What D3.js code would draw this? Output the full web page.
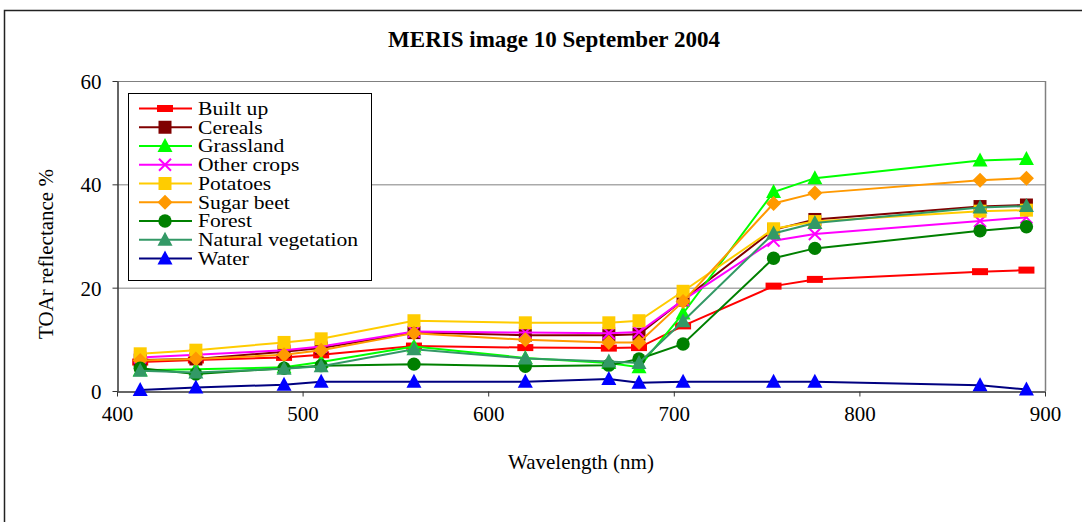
<!DOCTYPE html>
<html>
<head>
<meta charset="utf-8">
<script src="https://cdn.jsdelivr.net/npm/d3@7"></script>
<style>
  html, body { margin: 0; padding: 0; background: #fff; }
  svg { display: block; font-family: "Liberation Serif", "Times New Roman", serif; }
</style>
</head>
<body>
<svg id="chart" width="1082" height="522"></svg>
<script>
// MERIS band centres (nm)
const wavelengths = [412.5, 442.5, 490, 510, 560, 620, 665, 681.25, 705, 753.75, 776, 865, 890];

// TOA reflectance (%) per land-cover class
const builtUp     = [5.6, 6.0, 6.5, 7.0, 8.7, 8.4, 8.3, 8.4, 12.6, 20.3, 21.6, 23.1, 23.4];
const cereals     = [6.0, 6.2, 7.6, 8.3, 11.3, 10.8, 10.8, 11.0, 17.6, 31.2, 33.2, 35.7, 36.0];
const grassland   = [4.0, 4.2, 4.6, 5.6, 8.6, 6.4, 5.4, 4.6, 15.0, 38.5, 41.2, 44.6, 44.9];
const otherCrops  = [6.5, 7.0, 7.9, 8.6, 11.5, 11.3, 11.2, 11.4, 17.6, 29.1, 30.4, 32.9, 33.6];
const potatoes    = [7.2, 7.9, 9.4, 10.1, 13.6, 13.2, 13.2, 13.6, 19.3, 31.4, 32.8, 34.8, 35.0];
const sugarBeet   = [5.9, 6.2, 7.0, 7.9, 11.2, 9.9, 9.4, 9.4, 17.3, 36.3, 38.3, 40.8, 41.2];
const forest      = [4.4, 3.3, 4.4, 4.9, 5.2, 4.8, 5.0, 6.2, 9.1, 25.7, 27.6, 31.0, 31.8];
const naturalVeg  = [3.9, 3.6, 4.3, 4.8, 8.1, 6.3, 5.7, 5.4, 13.5, 30.5, 32.5, 35.5, 35.8];
const water       = [0.2, 0.7, 1.2, 1.8, 1.8, 1.8, 2.3, 1.6, 1.8, 1.8, 1.8, 1.1, 0.3];

const seriesNames = ["Built up", "Cereals", "Grassland", "Other crops", "Potatoes",
                     "Sugar beet", "Forest", "Natural vegetation", "Water"];
const seriesValues = [builtUp, cereals, grassland, otherCrops, potatoes,
                      sugarBeet, forest, naturalVeg, water];

const xTicks = [400, 500, 600, 700, 800, 900];
const yTicks = [0, 20, 40, 60];

const titleText = "MERIS image 10 September 2004";
const xLabel = "Wavelength (nm)";
const yLabel = "TOAr reflectance %";

// Per-series styling: line colour, marker shape, marker fill
const styles = [
  { line: "#FF0000", shape: "bar",      fill: "#FF0000" },
  { line: "#800000", shape: "square",   fill: "#800000" },
  { line: "#00FF00", shape: "triangle", fill: "#00FF00" },
  { line: "#FF00FF", shape: "cross",    fill: "#FF00FF" },
  { line: "#FFCC00", shape: "square",   fill: "#FFCC00" },
  { line: "#FF9900", shape: "diamond",  fill: "#FF9900" },
  { line: "#008000", shape: "circle",   fill: "#008000" },
  { line: "#339966", shape: "triangle", fill: "#339966" },
  { line: "#000080", shape: "triangle", fill: "#0000FF" }
];

const svg = d3.select("#chart");
const W = 1082, H = 522;
const plot = { left: 117, right: 1045, top: 81, bottom: 391 };

svg.append("rect").attr("width", W).attr("height", H).attr("fill", "#fff");

// Outer chart frame
svg.append("path")
  .attr("d", `M4.5,${H} L4.5,10.5 L${W},10.5`)
  .attr("fill", "none").attr("stroke", "#222").attr("stroke-width", 1.5);

const x = d3.scaleLinear().domain([400, 900]).range([plot.left, plot.right]);
const y = d3.scaleLinear().domain([0, 60]).range([plot.bottom, plot.top]);

// Horizontal gridlines
svg.append("g").selectAll("line")
  .data(yTicks.filter(t => t > 0))
  .join("line")
  .attr("x1", plot.left).attr("x2", plot.right)
  .attr("y1", d => y(d) + 0.5).attr("y2", d => y(d) + 0.5)
  .attr("stroke", "#808080").attr("stroke-width", 1);

// Right edge of the plot area
svg.append("line")
  .attr("x1", plot.right + 0.5).attr("x2", plot.right + 0.5)
  .attr("y1", plot.top).attr("y2", plot.bottom)
  .attr("stroke", "#808080").attr("stroke-width", 1.5);

// Axes
const xAxis = svg.append("g")
  .attr("transform", `translate(0,${plot.bottom + 0.5})`)
  .call(d3.axisBottom(x).tickValues(xTicks).tickSize(5).tickSizeOuter(0).tickPadding(10));
const yAxis = svg.append("g")
  .attr("transform", `translate(${plot.left + 0.5},0)`)
  .call(d3.axisLeft(y).tickValues(yTicks).tickSize(5).tickSizeOuter(0).tickPadding(11));

[xAxis, yAxis].forEach(g => {
  g.select(".domain").attr("stroke", "#333").attr("stroke-width", 1.5);
  g.selectAll(".tick line").attr("stroke", "#333").attr("stroke-width", 1);
  g.selectAll(".tick text")
    .attr("font-family", "Liberation Serif, serif")
    .attr("font-size", 21).attr("fill", "#000");
});
yAxis.selectAll(".tick text").attr("dy", "0.35em");

// Marker path generator
function markerPath(shape) {
  switch (shape) {
    case "bar":      return "M-8,-3.5 H8 V3.5 H-8 Z";
    case "square":   return "M-6.5,-6.5 H6.5 V6.5 H-6.5 Z";
    case "triangle": return "M0,-8 L7.5,6 L-7.5,6 Z";
    case "diamond":  return "M0,-7.5 L7.5,0 L0,7.5 L-7.5,0 Z";
    case "circle":   return d3.symbol(d3.symbolCircle, 140)();
    case "cross":    return "M-6,-6 L6,6 M6,-6 L-6,6";
  }
}

function drawMarker(g, shape, fill) {
  const p = g.append("path").attr("d", markerPath(shape));
  if (shape === "cross") {
    p.attr("fill", "none").attr("stroke", fill).attr("stroke-width", 2);
  } else {
    p.attr("fill", fill).attr("stroke", "none");
  }
}

const line = d3.line().x(d => x(d[0])).y(d => y(d[1]));

// Series: line then markers, in order
seriesValues.forEach((vals, i) => {
  const st = styles[i];
  const pts = wavelengths.map((w, j) => [w, vals[j]]);
  const g = svg.append("g");
  g.append("path")
    .attr("d", line(pts))
    .attr("fill", "none")
    .attr("stroke", st.line)
    .attr("stroke-width", 2);
  pts.forEach(p => {
    const m = g.append("g").attr("transform", `translate(${x(p[0])},${y(p[1])})`);
    drawMarker(m, st.shape, st.fill);
  });
});

// Legend (tight rows: text slightly widened so it keeps its width in a short line)
const legend = svg.append("g");
legend.append("rect")
  .attr("x", 128.5).attr("y", 93.5).attr("width", 243).attr("height", 187)
  .attr("fill", "#fff").attr("stroke", "#000").attr("stroke-width", 1);
seriesNames.forEach((name, i) => {
  const st = styles[i];
  const cy = 108.5 + i * 18.75;
  const row = legend.append("g");
  row.append("line")
    .attr("x1", 139).attr("x2", 192).attr("y1", cy).attr("y2", cy)
    .attr("stroke", st.line).attr("stroke-width", 2);
  const m = row.append("g").attr("transform", `translate(165,${cy})`);
  drawMarker(m, st.shape, st.fill);
  row.append("text")
    .attr("transform", `translate(198,${cy}) scale(1.2,1)`)
    .attr("dy", "0.35em")
    .attr("font-size", 18).attr("fill", "#000")
    .text(name);
});

// Titles
svg.append("text")
  .attr("x", 554).attr("y", 47)
  .attr("text-anchor", "middle")
  .attr("font-size", 23).attr("font-weight", "bold").attr("fill", "#000")
  .text(titleText);

svg.append("text")
  .attr("x", (plot.left + plot.right) / 2).attr("y", 469)
  .attr("text-anchor", "middle")
  .attr("font-size", 21).attr("fill", "#000")
  .text(xLabel);

svg.append("text")
  .attr("transform", "translate(53,254) rotate(-90)")
  .attr("text-anchor", "middle")
  .attr("font-size", 21).attr("fill", "#000")
  .text(yLabel);
</script>
</body>
</html>
